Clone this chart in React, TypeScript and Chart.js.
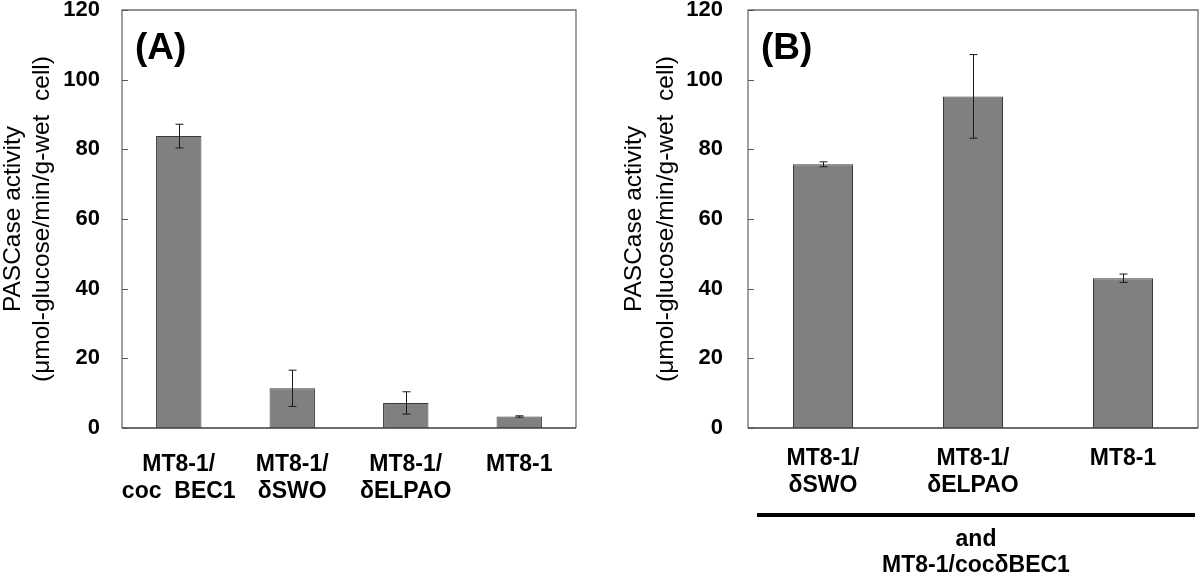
import React, { useEffect, useRef } from 'react';
import { Chart, registerables } from 'chart.js';

Chart.register(...registerables);

// ---- data ----
const categoriesA: (string | string[])[] = [['MT8-1/', 'coc  BEC1'], ['MT8-1/', 'δSWO'], ['MT8-1/', 'δELPAO'], 'MT8-1'];
const valuesA = [83.8, 11.4, 7.2, 3.3];
const errorsA = [3.4, 5.2, 3.2, 0.2];

const categoriesB: (string | string[])[] = [['MT8-1/', 'δSWO'], ['MT8-1/', 'δELPAO'], 'MT8-1'];
const valuesB = [75.7, 95.2, 43.0];
const errorsB = [0.7, 12.0, 1.2];

const yTicks = [0, 20, 40, 60, 80, 100, 120];
const yTitle = ['PASCase activity', '(μmol-glucose/min/g-wet  cell)'];
const panelLabels = ['(A)', '(B)'];
const groupNote = ['and', 'MT8-1/cocδBEC1'];

const FONT = "'Liberation Sans', Arial, sans-serif";

type PanelProps = {
  labels: (string | string[])[];
  values: number[];
  errors: number[];
  panelLabel: string;
  areaLeft: number;
  padRight: number;
  tickPad: number;
  titlePad: number;
  titleLineHeight: number;
  xLabelPad: number;
  note?: string[];
};

function Panel(p: PanelProps) {
  const ref = useRef<HTMLCanvasElement | null>(null);

  useEffect(() => {
    if (!ref.current) return;

    const errorBars = {
      id: 'errorBars',
      afterDatasetsDraw(chart: any) {
        const ctx = chart.ctx;
        const y = chart.scales.y;
        const meta = chart.getDatasetMeta(0);
        ctx.save();
        ctx.strokeStyle = '#1a1a1a';
        ctx.lineWidth = 1;
        meta.data.forEach((bar: any, i: number) => {
          const v = p.values[i];
          const e = p.errors[i];
          const yTop = y.getPixelForValue(v + e);
          const yBot = y.getPixelForValue(v - e);
          const x = Math.round(bar.x) + 0.5;
          ctx.beginPath();
          ctx.moveTo(x, yTop);
          ctx.lineTo(x, yBot);
          ctx.moveTo(x - 4, yTop);
          ctx.lineTo(x + 4, yTop);
          ctx.moveTo(x - 4, yBot);
          ctx.lineTo(x + 4, yBot);
          ctx.stroke();
        });
        ctx.restore();
      },
    };

    const frame = {
      id: 'frame',
      afterDraw(chart: any) {
        const ctx = chart.ctx;
        const a = chart.chartArea;
        const y = chart.scales.y;
        ctx.save();
        ctx.strokeStyle = '#6e6e6e';
        ctx.lineWidth = 1.3;
        ctx.beginPath();
        ctx.moveTo(a.left, a.bottom);
        ctx.lineTo(a.left, a.top);
        ctx.lineTo(a.right, a.top);
        ctx.lineTo(a.right, a.bottom);
        ctx.stroke();
        ctx.strokeStyle = '#3c3c3c';
        ctx.beginPath();
        ctx.moveTo(a.left, a.bottom);
        ctx.lineTo(a.right, a.bottom);
        ctx.stroke();
        // inside tick marks
        ctx.strokeStyle = '#555';
        ctx.lineWidth = 1;
        yTicks.forEach((t) => {
          const py = Math.round(y.getPixelForValue(t)) + 0.5;
          ctx.beginPath();
          ctx.moveTo(a.left, py);
          ctx.lineTo(a.left + 6, py);
          ctx.stroke();
        });
        // panel label
        ctx.fillStyle = '#000';
        ctx.font = `bold 37px ${FONT}`;
        ctx.textAlign = 'left';
        ctx.textBaseline = 'alphabetic';
        ctx.fillText(p.panelLabel, a.left + 13, 59);
        // group note (panel B)
        if (p.note) {
          ctx.strokeStyle = '#000';
          ctx.lineWidth = 4;
          ctx.beginPath();
          ctx.moveTo(757 - 600, 515);
          ctx.lineTo(1195 - 600, 515);
          ctx.stroke();
          ctx.font = `bold 23px ${FONT}`;
          ctx.textAlign = 'center';
          ctx.textBaseline = 'middle';
          ctx.fillText(p.note[0], 976 - 600, 540);
          ctx.fillText(p.note[1], 976 - 600, 566);
        }
        ctx.restore();
      },
    };

    const chart = new Chart(ref.current, {
      type: 'bar',
      data: {
        labels: p.labels,
        datasets: [
          {
            data: p.values,
            backgroundColor: '#808080',
            borderColor: '#3a3a3a',
            borderWidth: 1,
            categoryPercentage: 1,
            barPercentage: 0.4,
          },
        ],
      },
      options: {
        responsive: false,
        animation: false,
        layout: {
          autoPadding: false,
          padding: { left: 0, right: p.padRight, top: 10, bottom: 0 },
        },
        plugins: {
          legend: { display: false },
          tooltip: { enabled: false },
        },
        scales: {
          x: {
            grid: { display: false, drawTicks: false },
            border: { display: false },
            ticks: {
              color: '#000',
              font: { family: FONT, size: 23, weight: 'bold', lineHeight: 1.18 },
              padding: p.xLabelPad,
              maxRotation: 0,
              autoSkip: false,
            },
            afterFit(scale: any) {
              scale.height = 152;
            },
          },
          y: {
            min: 0,
            max: 120,
            grid: { display: false, drawTicks: true, tickLength: p.tickPad },
            border: { display: false },
            ticks: {
              stepSize: 20,
              color: '#000',
              padding: 0,
              font: { family: FONT, size: 22, weight: 'bold', lineHeight: 0.85 },
            },
            title: {
              display: true,
              text: yTitle,
              color: '#000',
              padding: { top: p.titlePad, bottom: 0 },
              font: { family: FONT, size: 24.5, weight: 'normal', lineHeight: p.titleLineHeight },
            },
            afterFit(scale: any) {
              scale.width = p.areaLeft;
            },
          },
        },
      },
      plugins: [errorBars, frame],
    } as any);

    return () => chart.destroy();
  }, []);

  return <canvas ref={ref} width={600} height={580} style={{ display: 'block', width: 600, height: 580 }} />;
}

export default function App() {
  return (
    <div
      style={{
        position: 'fixed',
        left: 0,
        top: 0,
        width: 1200,
        height: 580,
        background: '#fff',
        display: 'flex',
      }}
    >
      <Panel
        labels={categoriesA}
        values={valuesA}
        errors={errorsA}
        panelLabel={panelLabels[0]}
        areaLeft={122}
        padRight={24}
        tickPad={22}
        titlePad={-1.5}
        titleLineHeight={1.2}
        xLabelPad={23}
      />
      <Panel
        labels={categoriesB}
        values={valuesB}
        errors={errorsB}
        panelLabel={panelLabels[1]}
        areaLeft={148}
        padRight={2}
        tickPad={25}
        titlePad={18.5}
        titleLineHeight={1.3}
        xLabelPad={17}
        note={groupNote}
      />
    </div>
  );
}
